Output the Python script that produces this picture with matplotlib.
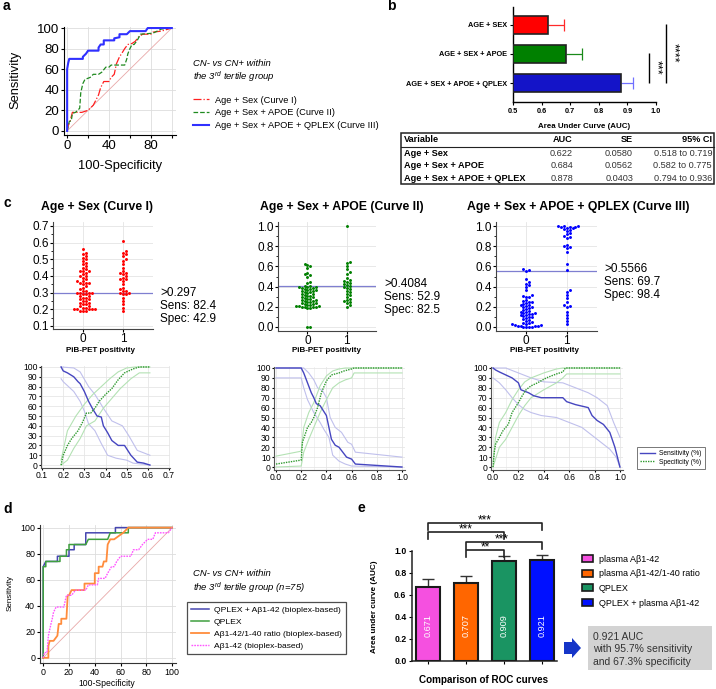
import numpy as np
import matplotlib
matplotlib.use("Agg")
import matplotlib.pyplot as plt
from matplotlib.patches import Patch, Rectangle, FancyArrow

plt.rcParams['font.family'] = ['Liberation Sans', 'DejaVu Sans']
plt.rcParams['mathtext.fontset'] = 'custom'
plt.rcParams['mathtext.rm'] = 'Liberation Sans'
plt.rcParams['mathtext.it'] = 'Liberation Sans:italic'

W, H = 716, 689

# ---- panel a: ROC curves (100-specificity, sensitivity)
a_labels = ["Age + Sex (Curve I)", "Age + Sex + APOE (Curve II)", "Age + Sex + APOE + QPLEX (Curve III)"]
a_x1 = [0, 1, 3, 5, 10, 14, 20, 25, 30, 32, 35, 40, 42, 45, 47, 50, 52, 55, 58, 62, 65, 68, 72, 80, 82, 90, 100]
a_y1 = [0, 5, 10, 18, 18, 18, 20, 25, 35, 42, 48, 48, 52, 55, 65, 72, 75, 80, 84, 85, 87, 91, 94, 94, 96, 97, 100]
a_x2 = [0, 2, 4, 5, 8, 12, 13, 15, 17, 22, 25, 30, 33, 37, 40, 42, 50, 55, 57, 58, 60, 62, 64, 67, 70, 82, 86, 90, 100]
a_y2 = [0, 9, 10, 17, 18, 22, 37, 46, 50, 52, 55, 55, 57, 62, 62, 64, 64, 64, 70, 75, 80, 84, 84, 88, 94, 95, 97, 99, 100]
a_x3 = [0, 0, 1, 2, 15, 15, 18, 20, 30, 30, 32, 35, 35, 45, 45, 50, 50, 57, 60, 75, 77, 100]
a_y3 = [0, 60, 66, 70, 70, 72, 75, 78, 78, 81, 84, 84, 88, 88, 90, 91, 94, 94, 97, 97, 100, 100]
diag = [0, 100]

# ---- panel b: AUC bars + table
b_labels = ["AGE + SEX", "AGE + SEX + APOE", "AGE + SEX + APOE + QPLEX"]
b_auc = [0.622, 0.684, 0.878]
b_upper = [0.679, 0.741, 0.921]
tbl_var = ["Age + Sex", "Age + Sex + APOE", "Age + Sex + APOE + QPLEX"]
tbl_auc = ["0.622", "0.684", "0.878"]
tbl_se = ["0.0580", "0.0562", "0.0403"]
tbl_ci = ["0.518 to 0.719", "0.582 to 0.775", "0.794 to 0.936"]

# ---- panel c: dot plots
c_titles = ["Age + Sex (Curve I)", "Age + Sex + APOE (Curve II)", "Age + Sex + APOE + QPLEX (Curve III)"]
c_cut = ["0.297", "0.4084", "0.5566"]
c_sens = [82.4, 52.9, 69.7]
c_spec = [42.9, 82.5, 98.4]
g0_c1 = [0.19, 0.19, 0.19, 0.20, 0.20, 0.20, 0.20, 0.20, 0.21, 0.21, 0.22, 0.22, 0.23, 0.23, 0.24, 0.24,
         0.25, 0.25, 0.26, 0.26, 0.27, 0.27, 0.28, 0.28, 0.29, 0.29, 0.30, 0.30, 0.30, 0.30, 0.31, 0.31,
         0.32, 0.33, 0.34, 0.35, 0.36, 0.36, 0.36, 0.37, 0.37, 0.38, 0.39, 0.40, 0.40, 0.41, 0.42, 0.43,
         0.43, 0.43, 0.44, 0.45, 0.46, 0.47, 0.48, 0.49, 0.50, 0.51, 0.52, 0.53, 0.54, 0.56]
g1_c1 = [0.19, 0.21, 0.23, 0.25, 0.27, 0.29, 0.29, 0.30, 0.30, 0.31, 0.31, 0.32, 0.33, 0.35, 0.37, 0.38,
         0.38, 0.39, 0.40, 0.41, 0.42, 0.42, 0.43, 0.45, 0.47, 0.49, 0.50, 0.52, 0.53, 0.54, 0.55, 0.61]
g0_c2 = [0.0, 0.0, 0.19, 0.19, 0.20, 0.20, 0.20, 0.20, 0.21, 0.21, 0.21, 0.22, 0.22, 0.23, 0.23, 0.24,
         0.24, 0.25, 0.25, 0.26, 0.26, 0.27, 0.27, 0.28, 0.28, 0.29, 0.30, 0.30, 0.31, 0.31, 0.32, 0.33,
         0.33, 0.34, 0.35, 0.35, 0.36, 0.36, 0.37, 0.37, 0.38, 0.38, 0.39, 0.39, 0.40, 0.40, 0.40, 0.41,
         0.41, 0.44, 0.45, 0.50, 0.51, 0.52, 0.53, 0.58, 0.60, 0.61, 0.62]
g1_c2 = [0.20, 0.22, 0.24, 0.25, 0.26, 0.27, 0.28, 0.30, 0.32, 0.33, 0.35, 0.36, 0.38, 0.39, 0.40, 0.41,
         0.42, 0.43, 0.44, 0.45, 0.46, 0.47, 0.49, 0.52, 0.54, 0.57, 0.60, 0.63, 0.64, 1.0]
g0_c3 = [0.0, 0.0, 0.0, 0.0, 0.005, 0.005, 0.01, 0.01, 0.015, 0.02, 0.025, 0.03, 0.035, 0.04,
         0.05, 0.06, 0.07, 0.08, 0.09, 0.10, 0.10, 0.11, 0.12, 0.12, 0.13, 0.13, 0.14, 0.14, 0.15,
         0.15, 0.16, 0.17, 0.18, 0.19, 0.20, 0.20, 0.21, 0.22, 0.22, 0.23, 0.24, 0.25, 0.25, 0.26,
         0.27, 0.30, 0.30, 0.31, 0.32, 0.37, 0.40, 0.42, 0.43, 0.45, 0.48, 0.55, 0.56, 0.57]
g1_c3 = [0.03, 0.06, 0.09, 0.12, 0.15, 0.20, 0.21, 0.22, 0.25, 0.29, 0.32, 0.35, 0.37, 0.56, 0.62, 0.74,
         0.78, 0.79, 0.80, 0.81, 0.88, 0.89, 0.90, 0.92, 0.93, 0.95, 0.96, 0.97, 0.98, 0.98, 0.99, 0.99,
         0.99, 1.0, 1.0, 1.0]

# ---- panel c: sensitivity / specificity vs criterion
s1_x = [0.19, 0.20, 0.22, 0.25, 0.27, 0.28, 0.30, 0.32, 0.34, 0.36, 0.38, 0.39, 0.41, 0.43, 0.46, 0.49, 0.52, 0.55, 0.58, 0.61]
s1_y = [100, 96, 94, 90, 85, 83, 75, 65, 57, 50, 49, 40, 33, 25, 20, 20, 10, 3, 2, 0]
s1u_x = [0.19, 0.25, 0.28, 0.32, 0.35, 0.39, 0.43, 0.48, 0.51, 0.55, 0.61]
s1u_y = [100, 99, 95, 80, 72, 58, 45, 40, 30, 15, 10]
s1l_x = [0.19, 0.20, 0.25, 0.28, 0.30, 0.32, 0.35, 0.38, 0.41, 0.45, 0.50, 0.53, 0.61]
s1l_y = [88, 85, 75, 65, 55, 42, 35, 22, 10, 7, 5, 2, 0]
p1_x = [0.19, 0.20, 0.22, 0.24, 0.27, 0.29, 0.31, 0.33, 0.35, 0.37, 0.40, 0.43, 0.46, 0.49, 0.53, 0.56, 0.61]
p1_y = [0, 10, 20, 27, 35, 43, 53, 53, 58, 65, 72, 78, 87, 94, 98, 100, 100]
p1u_x = [0.19, 0.22, 0.26, 0.30, 0.34, 0.38, 0.42, 0.46, 0.50, 0.54, 0.61]
p1u_y = [5, 35, 50, 62, 72, 80, 88, 95, 99, 100, 100]
p1l_x = [0.19, 0.22, 0.25, 0.28, 0.31, 0.35, 0.39, 0.43, 0.47, 0.52, 0.56, 0.61]
p1l_y = [0, 5, 17, 27, 40, 45, 58, 68, 78, 88, 94, 94]

s2_x = [0, 0.20, 0.22, 0.25, 0.28, 0.30, 0.32, 0.35, 0.37, 0.40, 0.42, 0.44, 0.47, 0.50, 0.53, 0.56, 0.60, 0.63, 1.0]
s2_y = [100, 100, 95, 85, 75, 70, 64, 62, 58, 52, 40, 28, 22, 20, 15, 10, 8, 3, 0]
s2u_x = [0, 0.22, 0.26, 0.30, 0.33, 0.37, 0.40, 0.43, 0.47, 0.52, 0.57, 0.60, 0.63, 1.0]
s2u_y = [100, 100, 95, 88, 80, 77, 70, 50, 40, 35, 25, 23, 15, 10]
s2l_x = [0, 0.20, 0.22, 0.25, 0.30, 0.35, 0.38, 0.42, 0.45, 0.50, 0.55, 0.60, 1.0]
s2l_y = [90, 90, 80, 68, 55, 45, 38, 30, 12, 6, 3, 1, 0]
p2_x = [0, 0.20, 0.21, 0.25, 0.28, 0.30, 0.33, 0.36, 0.40, 0.44, 0.50, 0.54, 0.60, 0.62, 1.0]
p2_y = [3, 7, 25, 40, 45, 50, 60, 75, 87, 93, 95, 97, 99, 100, 100]
p2u_x = [0, 0.20, 0.22, 0.26, 0.30, 0.35, 0.40, 0.45, 0.50, 0.55, 1.0]
p2u_y = [11, 16, 40, 55, 65, 82, 92, 97, 99, 100, 100]
p2l_x = [0, 0.20, 0.22, 0.26, 0.30, 0.35, 0.40, 0.45, 0.50, 0.55, 0.60, 0.62, 1.0]
p2l_y = [0, 1, 15, 28, 40, 55, 68, 80, 85, 88, 90, 95, 95]

s3_x = [0, 0.02, 0.05, 0.10, 0.15, 0.20, 0.22, 0.28, 0.32, 0.38, 0.55, 0.58, 0.65, 0.75, 0.78, 0.82, 0.87, 0.92, 0.96, 1.0]
s3_y = [100, 98, 96, 93, 90, 85, 78, 75, 72, 70, 70, 66, 63, 60, 52, 47, 43, 35, 20, 0]
s3u_x = [0, 0.10, 0.20, 0.30, 0.40, 0.55, 0.65, 0.75, 0.82, 0.90, 0.95, 1.0]
s3u_y = [100, 100, 95, 90, 86, 85, 80, 75, 70, 62, 45, 30]
s3l_x = [0, 0.05, 0.10, 0.15, 0.20, 0.25, 0.30, 0.38, 0.50, 0.60, 0.70, 0.80, 0.85, 0.92, 0.97, 1.0]
s3l_y = [90, 85, 78, 70, 63, 58, 55, 52, 50, 45, 40, 30, 25, 18, 10, 0]
p3_x = [0, 0.01, 0.02, 0.05, 0.08, 0.12, 0.15, 0.20, 0.23, 0.26, 0.30, 0.35, 0.42, 0.50, 0.55, 0.57, 1.0]
p3_y = [0, 15, 23, 30, 37, 43, 55, 65, 72, 78, 82, 85, 90, 94, 96, 100, 100]
p3u_x = [0, 0.02, 0.05, 0.10, 0.15, 0.20, 0.25, 0.30, 0.40, 0.50, 0.55, 1.0]
p3u_y = [5, 30, 45, 55, 68, 78, 86, 90, 95, 99, 100, 100]
p3l_x = [0, 0.02, 0.05, 0.10, 0.15, 0.20, 0.25, 0.30, 0.40, 0.50, 0.55, 0.58, 1.0]
p3l_y = [0, 8, 20, 28, 40, 52, 62, 70, 78, 85, 90, 94, 94]

# ---- panel d: ROC curves
d_labels = ["QPLEX + A\u03b21-42 (bioplex-based)", "QPLEX", "A\u03b21-42/1-40 ratio (bioplex-based)", "A\u03b21-42 (bioplex-based)"]
d_x1 = [0, 0, 2, 11, 11, 20, 20, 24, 24, 33, 33, 56, 56, 100]
d_y1 = [0, 70, 74, 74, 78, 78, 83, 83, 87, 87, 96, 96, 100, 100]
d_x2 = [0, 0, 2, 2, 13, 13, 18, 18, 20, 20, 33, 35, 50, 52, 66, 66, 100]
d_y2 = [0, 70, 70, 74, 74, 78, 78, 83, 83, 87, 87, 91, 91, 96, 96, 100, 100]
d_x3 = [0, 4, 4, 5, 8, 11, 12, 14, 14, 18, 19, 20, 22, 32, 32, 40, 40, 43, 43, 46, 47, 49, 50, 52, 55, 62, 66, 100]
d_y3 = [0, 0, 9, 13, 13, 17, 26, 26, 30, 30, 48, 48, 52, 52, 57, 57, 65, 65, 70, 70, 74, 74, 87, 91, 91, 96, 100, 100]
d_x4 = [0, 1, 3, 4, 6, 7, 8, 10, 16, 18, 22, 25, 33, 35, 42, 43, 48, 50, 53, 55, 57, 60, 68, 70, 74, 77, 81, 85, 87, 97, 100]
d_y4 = [0, 4, 4, 17, 26, 30, 35, 39, 39, 48, 48, 52, 52, 56, 56, 61, 61, 65, 70, 70, 74, 78, 78, 83, 83, 87, 91, 91, 96, 96, 100]

# ---- panel e: AUC comparison
e_labels = ["plasma A\u03b21-42", "plasma A\u03b21-42/1-40 ratio", "QPLEX", "QPLEX + plasma A\u03b21-42"]
e_auc = [0.671, 0.707, 0.909, 0.921]
e_upper = [0.745, 0.773, 0.955, 0.962]
e_pairs = [(0, 3), (0, 2), (1, 3), (1, 2)]
e_stars = ["***", "***", "***", "**"]


fig = plt.figure(figsize=(W / 100, H / 100), dpi=100)


def add_px(l, t, r, b):
    return fig.add_axes([l / W, 1 - b / H, (r - l) / W, (b - t) / H])


def style(ax, color='black', lw=0.8):
    ax.spines['top'].set_visible(False)
    ax.spines['right'].set_visible(False)
    for s in ['left', 'bottom']:
        ax.spines[s].set_color(color)
        ax.spines[s].set_linewidth(lw)


def swarm(vals, ppu_y, d=2.9):
    # simple beeswarm: offsets in pixels, placed in sorted order
    order = np.argsort(vals, kind='stable')
    placed = []
    offs = np.zeros(len(vals))
    for i in order:
        y = vals[i] * ppu_y
        k = 0
        while True:
            cand = 0 if k == 0 else ((k + 1) // 2) * d * (1 if k % 2 else -1)
            ok = all((cand - px) ** 2 + (y - py) ** 2 >= (d * 0.98) ** 2 for px, py in placed)
            if ok:
                break
            k += 1
        placed.append((cand, y))
        offs[i] = cand
    return offs


ov = fig.add_axes([0, 0, 1, 1])
ov.set_xlim(0, W)
ov.set_ylim(H, 0)
ov.axis('off')
ov.set_zorder(10)

for lab, x, y in [("a", 3, 6), ("b", 387, 6), ("c", 3, 203), ("d", 3, 509), ("e", 358, 508)]:
    ov.text(x, y, lab, fontsize=10, fontweight='bold', ha='left', va='center')

# ================= panel a
axa = add_px(64, 27, 176, 135)
axa.plot(diag, diag, color='#e8a8a8', lw=0.6)
axa.plot(a_x1, a_y1, color='#ff2020', lw=0.9, ls='-.', label=a_labels[0])
axa.plot(a_x2, a_y2, color='#1f8a1f', lw=0.9, ls='--', label=a_labels[1])
axa.plot(a_x3, a_y3, color='#3030ff', lw=1.5, label=a_labels[2])
axa.set_xlim(-3, 104)
axa.set_ylim(-4, 101)
axa.set_xticks(range(0, 101, 20))
axa.set_xticklabels(['0', '', '40', '', '80', ''])
axa.set_yticks(range(0, 101, 20))
axa.grid(color='#dddddd', lw=0.6)
axa.set_axisbelow(True)
style(axa)
axa.tick_params(labelsize=9.5, length=2, pad=1.5)
ov.text(15, 80, "Sensitivity", fontsize=9.3, rotation=90, ha='center', va='center')
ov.text(120, 166, "100-Specificity", fontsize=9.3, ha='center', va='center')
ov.text(193, 63, "CN- vs CN+ within", fontsize=6.8, style='italic', va='center')
ov.text(193, 77, "the 3$^{rd}$ tertile group", fontsize=6.8, style='italic', va='center')
axa.legend(loc='upper left', bbox_to_anchor=(189 / W, 1 - 92 / H), bbox_transform=fig.transFigure,
           frameon=False, fontsize=6.7, handlelength=1.7, handletextpad=0.65, labelspacing=0.4,
           borderaxespad=0, borderpad=0.4)

# ================= panel b
axb = add_px(513, 7, 656, 102)
b_cols = ['#ff0000', '#008000', '#1414c8']
b_ecols = ['#ff2a2a', '#1a8a1a', '#7070ff']
yb = np.arange(3)
axb.barh(yb, np.array(b_auc) - 0.5, left=0.5, height=0.59, color=b_cols, edgecolor='#222222', lw=1.2, zorder=3)
for i in range(3):
    axb.hlines(yb[i], b_auc[i], b_upper[i], color=b_ecols[i], lw=0.9, zorder=2)
    axb.vlines(b_upper[i], yb[i] - 0.2, yb[i] + 0.2, color=b_ecols[i], lw=0.9, zorder=2)
axb.set_xlim(0.5, 1.0)
axb.set_ylim(2.655, -0.62)
axb.set_yticks(yb)
axb.set_yticklabels(b_labels, fontweight='bold', fontsize=5.3)
axb.set_xticks(np.arange(0.5, 1.01, 0.1))
axb.set_xticklabels(['0.5', '0.6', '0.7', '0.8', '0.9', '1.0'], fontweight='bold', fontsize=5.3)
style(axb, lw=1.0)
axb.tick_params(length=2.5, pad=1.5)
for xs, y0, y1, st in [(0.9755, 1, 2, '***'), (1.035, 0, 2, '****')]:
    axb.vlines(xs, y0 - 0.05, y1, color='black', lw=1.0, clip_on=False)
    axb.text(xs + 0.027, (y0 + y1) / 2 - 0.05, st, rotation=270, fontsize=9, ha='center', va='center', clip_on=False)
ov.text(584, 127, "Area Under Curve (AUC)", fontsize=5.7, fontweight='bold', ha='center', va='center')

# table
ov.add_patch(Rectangle((401, 133), 313, 51, fill=False, lw=1.1, edgecolor='#222222'))
ov.plot([401, 714], [147, 147], color='#222222', lw=0.8)
fs_t = 6.6
ov.text(404, 140, "Variable", fontsize=fs_t, fontweight='bold', va='center')
ov.text(573, 140, "AUC", fontsize=fs_t, fontweight='bold', va='center', ha='right')
ov.text(633, 140, "SE", fontsize=fs_t, fontweight='bold', va='center', ha='right')
ov.text(712, 140, "95% CI", fontsize=fs_t, fontweight='bold', va='center', ha='right')
for i in range(3):
    yy = 153 + i * 12.7
    ov.text(404, yy, tbl_var[i], fontsize=fs_t, fontweight='bold', va='center')
    ov.text(573, yy, tbl_auc[i], fontsize=fs_t, va='center', ha='right', color='#333333')
    ov.text(633, yy, tbl_se[i], fontsize=fs_t, va='center', ha='right', color='#333333')
    ov.text(712, yy, tbl_ci[i], fontsize=fs_t, va='center', ha='right', color='#333333')

# ================= panel c top: dot plots
sc_boxes = [(53, 222, 153, 329), (278, 222, 376, 331), (496, 222, 597, 331)]
sc_ylims = [(0.082, 0.724), (-0.04, 1.04), (-0.04, 1.04)]
sc_cols = ['#ff0000', '#008000', '#0000ff']
sc_data = [(g0_c1, g1_c1), (g0_c2, g1_c2), (g0_c3, g1_c3)]
title_x = [97, 342, 578]
txt_x = [160, 384, 604]
txt_y = [293, 284, 269]
lab_x = [100, 326, 545]
for k in range(3):
    l, t, r, b = sc_boxes[k]
    ax = add_px(l, t, r, b)
    y0, y1 = sc_ylims[k]
    ppu_y = (b - t) / (y1 - y0)
    ppu_x = (r - l) / 2.5
    for g, vals in enumerate(sc_data[k]):
        vals = np.array(vals)
        offs = swarm(vals, ppu_y)
        ax.scatter(g + offs / ppu_x, vals, s=4.5, color=sc_cols[k], lw=0, zorder=3)
    ax.axhline(float(c_cut[k]), color='#7f7fd0', lw=0.9, zorder=2)
    ax.set_xlim(-0.75, 1.75)
    ax.set_ylim(y0, y1)
    ax.set_xticks([0, 1])
    if k == 0:
        ax.set_yticks(np.arange(0.1, 0.71, 0.1))
        ax.set_yticklabels(['0.1', '0.2', '0.3', '0.4', '0.5', '0.6', '0.7'])
        ax.set_yticks(np.arange(0.15, 0.7, 0.1), minor=True)
    else:
        ax.set_yticks(np.arange(0, 1.01, 0.2))
        ax.set_yticklabels(['0.0', '0.2', '0.4', '0.6', '0.8', '1.0'])
        ax.set_yticks(np.arange(0.1, 1.0, 0.2), minor=True)
    ax.grid(color='#e4e4e4', lw=0.6)
    ax.set_axisbelow(True)
    style(ax, color='#444444')
    ax.tick_params(labelsize=8.5, length=2, pad=1)
    ax.tick_params(which='minor', length=1.2)
    ov.text(title_x[k], 207, c_titles[k], fontsize=8.8, fontweight='bold', ha='center', va='center')
    ov.text(txt_x[k], txt_y[k], ">" + c_cut[k], fontsize=8.5, va='center')
    ov.text(txt_x[k], txt_y[k] + 13, "Sens: %.1f" % c_sens[k], fontsize=8.5, va='center')
    ov.text(txt_x[k], txt_y[k] + 26, "Spec: %.1f" % c_spec[k], fontsize=8.5, va='center')
    ov.text(lab_x[k], 350, "PiB-PET positivity", fontsize=5.8, fontweight='bold', ha='center', va='center')

# ================= panel c bottom: sens/spec curves
cb_boxes = [(41, 366, 170, 468), (274, 367, 405, 470), (491, 367, 623, 470)]
cb_xlims = [(0.095, 0.705), (-0.016, 1.024), (-0.016, 1.024)]
cb_curves = [
    (s1_x, s1_y, s1u_x, s1u_y, s1l_x, s1l_y, p1_x, p1_y, p1u_x, p1u_y, p1l_x, p1l_y),
    (s2_x, s2_y, s2u_x, s2u_y, s2l_x, s2l_y, p2_x, p2_y, p2u_x, p2u_y, p2l_x, p2l_y),
    (s3_x, s3_y, s3u_x, s3u_y, s3l_x, s3l_y, p3_x, p3_y, p3u_x, p3u_y, p3l_x, p3l_y),
]
for k in range(3):
    ax = add_px(*cb_boxes[k])
    sx, sy, sux, suy, slx, sly, px_, py_, pux, puy, plx, ply = cb_curves[k]
    ax.plot(sux, suy, color='#c0c0ec', lw=0.8)
    ax.plot(slx, sly, color='#c0c0ec', lw=0.8)
    ax.plot(pux, puy, color='#b4e2b4', lw=0.8)
    ax.plot(plx, ply, color='#b4e2b4', lw=0.8)
    ax.plot(sx, sy, color='#4646c0', lw=1.0, label="Sensitivity (%)")
    ax.plot(px_, py_, color='#2f9a2f', lw=1.0, ls=(0, (1, 0.8)), label="Specificity (%)")
    ax.set_xlim(*cb_xlims[k])
    ax.set_ylim(-3, 101)
    ax.set_yticks(range(0, 101, 10))
    if k == 0:
        ax.set_xticks(np.arange(0.1, 0.71, 0.1))
        ax.set_xticklabels(['0.1', '0.2', '0.3', '0.4', '0.5', '0.6', '0.7'])
    else:
        ax.set_xticks(np.arange(0, 1.01, 0.2))
        ax.set_xticklabels(['0.0', '0.2', '0.4', '0.6', '0.8', '1.0'])
        ax.set_xticks(np.arange(0.1, 1.0, 0.2), minor=True)
        ax.grid(which='minor', axis='x', color='#ececec', lw=0.5)
    ax.grid(color='#e6e6e6', lw=0.6)
    style(ax, color='#555555')
    ax.tick_params(labelsize=6.2, length=1.5, pad=1)
    ax.tick_params(which='minor', length=0)
    if k == 2:
        leg = ax.legend(loc='upper left', bbox_to_anchor=(637 / W, 1 - 447 / H), bbox_transform=fig.transFigure,
                        fontsize=4.8, handlelength=2.2, handletextpad=0.6, labelspacing=0.2, borderpad=0.5,
                        borderaxespad=0, fancybox=False, edgecolor='#555555')
        leg.get_frame().set_linewidth(0.7)

# ================= panel d
axd = add_px(40, 525, 176, 663)
axd.plot(diag, diag, color='#e8a8a8', lw=0.6)
axd.plot(d_x1, d_y1, color='#4646b0', lw=1.1, label=d_labels[0])
axd.plot(d_x2, d_y2, color='#3f9f3f', lw=1.1, label=d_labels[1])
axd.plot(d_x3, d_y3, color='#ff8c3c', lw=1.3, label=d_labels[2])
axd.plot(d_x4, d_y4, color='#ff55ff', lw=1.0, ls=(0, (1.2, 0.8)), label=d_labels[3])
axd.set_xlim(-2.5, 103)
axd.set_ylim(-4, 102)
axd.set_xticks(range(0, 101, 20))
axd.set_yticks(range(0, 101, 20))
axd.grid(color='#dddddd', lw=0.6)
axd.set_axisbelow(True)
style(axd, color='#333333')
axd.tick_params(labelsize=6.4, length=2, pad=1.5)
ov.text(10, 593, "Sensitivity", fontsize=5.8, rotation=90, ha='center', va='center')
ov.text(107, 683, "100-Specificity", fontsize=6.2, ha='center', va='center')
ov.text(193, 574, "CN- vs CN+ within", fontsize=6.8, style='italic', va='center')
ov.text(193, 588, "the 3$^{rd}$ tertile group (n=75)", fontsize=6.8, style='italic', va='center')
leg = axd.legend(loc='upper left', bbox_to_anchor=(187 / W, 1 - 602 / H), bbox_transform=fig.transFigure,
                 fontsize=6.1, handlelength=2.2, handletextpad=0.5, labelspacing=0.48, borderpad=0.45,
                 borderaxespad=0, fancybox=False, edgecolor='#222222')
leg.get_frame().set_linewidth(0.9)

# ================= panel e
axe = add_px(412, 551, 557, 661)
e_cols = ['#f550e0', '#ff6600', '#1a9462', '#0010ff']
xe = np.arange(4)
axe.bar(xe, e_auc, width=0.63, color=e_cols, edgecolor='#1a1a1a', lw=1.5, zorder=3)
for i in range(4):
    axe.vlines(xe[i], e_auc[i], e_upper[i], color='#333333', lw=1.0, zorder=2)
    axe.hlines(e_upper[i], xe[i] - 0.16, xe[i] + 0.16, color='#333333', lw=1.0, zorder=2)
    axe.text(xe[i], 0.325, "%.3f" % e_auc[i], rotation=90, color='white', fontsize=6.6,
             ha='center', va='center', zorder=4)
axe.set_xlim(-0.42, 3.4)
axe.set_ylim(0, 1.0)
axe.set_xticks(xe)
axe.set_xticklabels([])
axe.set_yticks(np.arange(0, 1.01, 0.2))
axe.set_yticklabels(['0.0', '0.2', '0.4', '0.6', '0.8', '1.0'], fontweight='bold', fontsize=6.3)
style(axe, color='#222222', lw=1.1)
axe.tick_params(length=2.5, pad=1.5)
bracket_y = [1.255, 1.173, 1.082, 1.01]
star_dx = [0, 0, -0.05, 0]
for (i, j), yb_, st, dx in zip(e_pairs, bracket_y, e_stars, star_dx):
    axe.plot([xe[i], xe[i], xe[j], xe[j]], [yb_ - 0.06, yb_, yb_, yb_ - 0.06], color='#222222', lw=1.2, clip_on=False)
    axe.text((xe[i] + xe[j]) / 2 + dx, yb_ - 0.005, st, fontsize=8.5, ha='center', va='baseline', clip_on=False)
ov.text(375, 607, "Area under curve (AUC)", fontsize=5.9, fontweight='bold', rotation=90, ha='center', va='center')
ov.text(484, 680, "Comparison of ROC curves", fontsize=7.1, fontweight='bold', ha='center', va='center')
handles = [Patch(facecolor=c, edgecolor='#1a1a1a', lw=1.2) for c in e_cols]
fig.legend(handles, e_labels, loc='upper left', bbox_to_anchor=(578 / W, 1 - 551 / H), frameon=False,
           fontsize=6.5, handlelength=1.3, handleheight=0.8, handletextpad=0.6, labelspacing=0.63,
           borderaxespad=0, borderpad=0.4)

ov.add_patch(FancyArrow(564, 648, 17, 0, width=12, head_width=20, head_length=9,
                        length_includes_head=True, color='#1535c8', lw=0))
ov.add_patch(Rectangle((588, 626), 124, 44, facecolor='#d3d3d3', edgecolor='none'))
for yy, s in zip([637, 649.5, 662], ["0.921 AUC", "with 95.7% sensitivity", "and 67.3% specificity"]):
    ov.text(593, yy, s, fontsize=7.5, color='#333333', va='center')

fig.savefig("out.png", dpi=100)
